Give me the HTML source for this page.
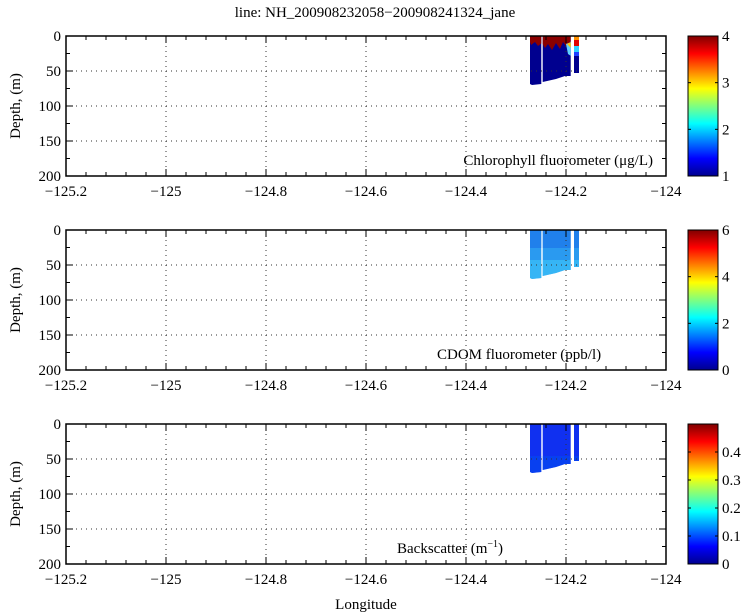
<!DOCTYPE html><html><head><meta charset="utf-8"><style>body{margin:0;background:#fff}svg{display:block;font-family:"Liberation Serif",serif}</style></head><body>
<svg id="s" width="750" height="614" viewBox="0 0 750 614" xmlns="http://www.w3.org/2000/svg">
<defs><linearGradient id="jet" x1="0" y1="1" x2="0" y2="0">
<stop offset="0" stop-color="#00008f"/><stop offset="0.125" stop-color="#0000ff"/><stop offset="0.375" stop-color="#00ffff"/><stop offset="0.625" stop-color="#ffff00"/><stop offset="0.875" stop-color="#ff0000"/><stop offset="1" stop-color="#800000"/></linearGradient></defs>
<text x="375" y="17" font-size="15" text-anchor="middle">line: NH_200908232058−200908241324_jane</text>
<text x="366" y="609" font-size="15" text-anchor="middle">Longitude</text>
</svg>
<script>
const s=document.getElementById('s');let h='';
const L=66,R=666,W=600;
const panels=[{t:36,lab:'Chlorophyll fluorometer (μg/L)',lx:653,anc:'end',cb:['1','2','3','4'],cmax:3},
{t:230,lab:'CDOM fluorometer (ppb/l)',lx:437,anc:'start',cb:['0','2','4','6'],cmax:3},
{t:424,lab:'Backscatter (m<tspan font-size="10" dy="-6">−1</tspan><tspan dy="6">)</tspan>',lx:397,anc:'start',cb:['0','0.1','0.2','0.3','0.4'],cmax:5}];
const fills=['#00008f','#2a9af0','#1030f0'];
panels.forEach((p,i)=>{const t=p.t,b=t+140;
const f=fills[i];
const shape=`<polygon points="530,${t} 541.3,${t} 541.3,${t+48} 532,${t+49} 530,${t+48}"/><polygon points="542.7,${t} 570.7,${t} 570.7,${t+40} 565,${t+40} 556,${t+43} 542.7,${t+46}"/><polygon points="574,${t} 579,${t} 579,${t+37} 574,${t+37}"/>`;
h+=`<clipPath id="c${i}">${shape}</clipPath><g fill="${f}">${shape}</g>`;
h+=`<g clip-path="url(#c${i})">`;
if(i==0){h+=`<path fill="#8a0000" d="M530,${t} H571 V${t+5} L566,${t+10} L563,${t+6} L560,${t+13} L556,${t+7} L552,${t+14} L548,${t+8} L545,${t+12} L542,${t+7} L538,${t+10} L535,${t+6} L531,${t+9} L530,${t+6}Z"/>`;
h+=`<path fill="#60d0ff" d="M566,${t+8} L571,${t+6} V${t+20} L568,${t+18}Z"/><path fill="#ffd000" d="M567,${t+8} L571,${t+6} V${t+12}Z"/>`;
h+=`<rect x="574" y="${t}" width="5" height="4" fill="#ff9000"/><rect x="574" y="${t+4}" width="5" height="6" fill="#e00000"/><rect x="574" y="${t+10}" width="5" height="6" fill="#30d0ff"/><rect x="574" y="${t+16}" width="5" height="4" fill="#2040ff"/>`;}
if(i==1){h+=`<rect x="530" y="${t}" width="49" height="18" fill="#1a70e8" opacity="0.6"/><rect x="530" y="${t+30}" width="49" height="20" fill="#40c8f8" opacity="0.6"/>`;}
if(i==2){h+=`<rect x="530" y="${t+32}" width="49" height="20" fill="#0050f0" opacity="0.5"/>`;}
h+=`</g>`;
for(let k=1;k<=5;k++){const x=L+k*100;h+=`<line x1="${x}" y1="${t}" x2="${x}" y2="${b}" stroke="#333" stroke-width="1" stroke-dasharray="1,4"/>`;}
for(let k=1;k<=3;k++){const y=t+k*35;h+=`<line x1="${L}" y1="${y}" x2="${R}" y2="${y}" stroke="#333" stroke-width="1" stroke-dasharray="1,4"/>`;}
for(let k=0;k<=30;k++){const x=L+k*20,len=k%5==0?7:4;h+=`<line x1="${x}" y1="${t}" x2="${x}" y2="${t+len}" stroke="#000"/><line x1="${x}" y1="${b}" x2="${x}" y2="${b-len}" stroke="#000"/>`;}
for(let k=0;k<=8;k++){const y=t+k*17.5,len=k%2==0?7:4;h+=`<line x1="${L}" y1="${y}" x2="${L+len}" y2="${y}" stroke="#000"/><line x1="${R}" y1="${y}" x2="${R-len}" y2="${y}" stroke="#000"/>`;}
h+=`<rect x="${L}" y="${t}" width="${W}" height="140" fill="none" stroke="#000" stroke-width="1.5"/>`;
['−125.2','−125','−124.8','−124.6','−124.4','−124.2','−124'].forEach((v,k)=>{h+=`<text x="${L+k*100}" y="${b+20}" font-size="15" text-anchor="middle">${v}</text>`;});
['0','50','100','150','200'].forEach((v,k)=>{h+=`<text x="61" y="${t+k*35+5}" font-size="15" text-anchor="end">${v}</text>`;});
h+=`<text transform="translate(20,${t+70}) rotate(-90)" font-size="15" text-anchor="middle">Depth, (m)</text>`;
h+=`<text x="${p.lx}" y="${t+129}" font-size="15" text-anchor="${p.anc}">${p.lab}</text>`;
h+=`<rect x="688" y="${t}" width="30" height="140" fill="url(#jet)" stroke="#000" stroke-width="1"/>`;
p.cb.forEach((v,k)=>{const y=b-k*140/p.cmax;h+=`<line x1="688" y1="${y}" x2="691" y2="${y}" stroke="#000"/><line x1="718" y1="${y}" x2="715" y2="${y}" stroke="#000"/><text x="722" y="${y+5}" font-size="15">${v}</text>`;});
});
s.insertAdjacentHTML('beforeend',h);
</script></body></html>
